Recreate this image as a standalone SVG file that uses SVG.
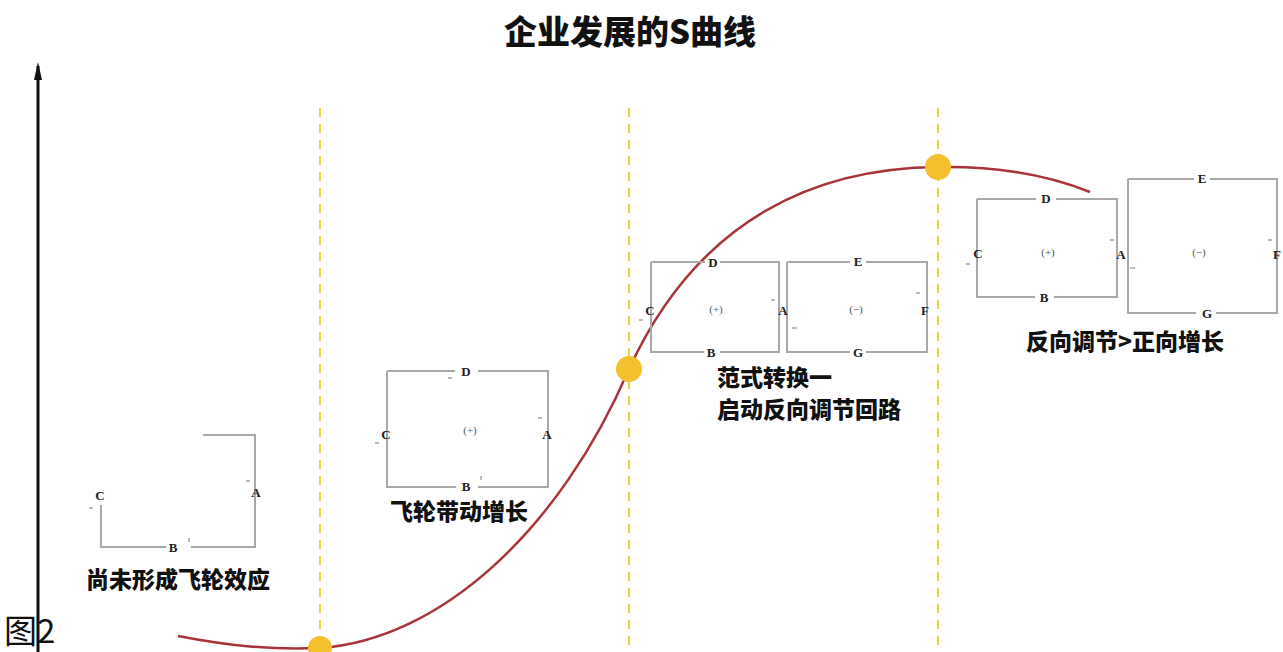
<svg xmlns="http://www.w3.org/2000/svg" width="1283" height="652" viewBox="0 0 1283 652">
<style>
.lb{font-family:"Liberation Serif","DejaVu Serif",serif;font-weight:bold;font-size:13px;fill:#222;text-anchor:middle}
.sg{font-family:"Liberation Serif",serif;font-size:11px;fill:#555;text-anchor:middle}
.box{fill:none;stroke:#a9a9a9;stroke-width:2}
.dash{stroke:#e6d44a;stroke-width:2;stroke-dasharray:9 7}
.dot{fill:#f5c02e}
.lab{font-family:"Noto Sans CJK SC",sans-serif;font-weight:900;font-size:23px;fill:#111}
.tk{stroke:#777;stroke-width:1}
</style>
<rect width="1283" height="652" fill="#fff"/>
<text x="630" y="44" font-size="33" text-anchor="middle" font-family="Noto Sans CJK SC,sans-serif" font-weight="900" fill="#111">企业发展的S曲线</text>
<g id="axis"><line x1="38" y1="652" x2="38" y2="66" stroke="#111" stroke-width="3"/><path d="M38,62 L42,80 L34,80 Z" fill="#111"/></g>
<g id="dividers">
<line x1="320" y1="108" x2="320" y2="652" class="dash"/>
<line x1="629" y1="108" x2="629" y2="652" class="dash"/>
<line x1="938" y1="108" x2="938" y2="652" class="dash"/>
</g>
<g id="connectors">
<path d="M178,636 C230,646 270,650 320,648 C440,640 560,530 629,369 C700,215 820,168 938,167 C1000,166 1050,176 1090,192" fill="none" stroke="#a8343a" stroke-width="2.5"/>
</g>
<g id="points">
<circle cx="320" cy="648" r="12" class="dot"/>
<circle cx="629" cy="369" r="13" class="dot"/>
<circle cx="938" cy="167" r="13" class="dot"/>
</g>
<g id="stage1">
<path d="M203,435 H255 V547 H191 M166,547 H101 V505" class="box"/>
<text x="100" y="500" class="lb">C</text>
<text x="256" y="497" class="lb">A</text>
<text x="173" y="552" class="lb">B</text>
<line x1="246" y1="481" x2="250" y2="481" class="tk"/><line x1="89" y1="508" x2="93" y2="508" class="tk"/><line x1="189" y1="538" x2="189" y2="542" class="tk"/>
<text x="178" y="588" class="lab" text-anchor="middle">尚未形成飞轮效应</text>
</g>
<g id="stage2">
<path d="M387,371 H455 M478,371 H548 V487 H478 M456,487 H387 V371" class="box"/>
<text x="466" y="376" class="lb">D</text>
<text x="386" y="439" class="lb">C</text>
<text x="470" y="434" class="sg">(+)</text>
<text x="547" y="439" class="lb">A</text>
<text x="466" y="491" class="lb">B</text>
<line x1="448" y1="378" x2="452" y2="378" class="tk"/><line x1="538" y1="418" x2="542" y2="418" class="tk"/><line x1="375" y1="443" x2="379" y2="443" class="tk"/><line x1="481" y1="476" x2="481" y2="480" class="tk"/>
<text x="459" y="520" class="lab" text-anchor="middle">飞轮带动增长</text>
</g>
<g id="stage3">
<path d="M651,262 H705 M720,262 H779 V352 H720 M704,352 H651 V262" class="box"/>
<path d="M787,262 H850 M866,262 H927 V352 H866 M850,352 H787 V262" class="box"/>
<text x="713" y="267" class="lb">D</text>
<text x="650" y="315" class="lb">C</text>
<text x="716" y="313" class="sg">(+)</text>
<text x="783" y="315" class="lb">A</text>
<text x="711" y="357" class="lb">B</text>
<text x="858" y="266" class="lb">E</text>
<text x="856" y="313" class="sg">(−)</text>
<text x="925" y="315" class="lb">F</text>
<text x="858" y="357" class="lb">G</text>
<line x1="771" y1="300" x2="775" y2="300" class="tk"/><line x1="792" y1="328" x2="797" y2="328" class="tk"/><line x1="639" y1="320" x2="643" y2="320" class="tk"/><line x1="916" y1="293" x2="920" y2="293" class="tk"/>
<text x="717" y="386" class="lab">范式转换一</text>
<text x="717" y="418" class="lab">启动反向调节回路</text>
</g>
<g id="stage4">
<path d="M977,199 H1036 M1056,199 H1117 V297 H1054 M1035,297 H977 V199" class="box"/>
<path d="M1128,179 H1194 M1210,179 H1277 V313 H1216 M1196,313 H1128 V179" class="box"/>
<text x="1046" y="203" class="lb">D</text>
<text x="978" y="258" class="lb">C</text>
<text x="1048" y="256" class="sg">(+)</text>
<text x="1121" y="259" class="lb">A</text>
<text x="1044" y="302" class="lb">B</text>
<text x="1202" y="183" class="lb">E</text>
<text x="1199" y="256" class="sg">(−)</text>
<text x="1277" y="259" class="lb">F</text>
<text x="1207" y="318" class="lb">G</text>
<line x1="1110" y1="240" x2="1114" y2="240" class="tk"/><line x1="1130" y1="268" x2="1135" y2="268" class="tk"/><line x1="966" y1="264" x2="970" y2="264" class="tk"/><line x1="1268" y1="240" x2="1272" y2="240" class="tk"/>
<text x="1125" y="350" class="lab" text-anchor="middle">反向调节&gt;正向增长</text>
</g>
<text x="4" y="643" font-family="Noto Sans CJK SC,sans-serif" font-size="33" fill="#111">图2</text>
</svg>
